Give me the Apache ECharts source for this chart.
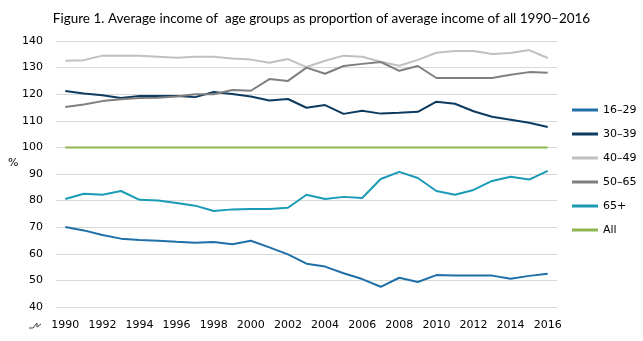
<!DOCTYPE html>
<html>
<head>
<meta charset="utf-8">
<script src="https://cdn.jsdelivr.net/npm/echarts@6/dist/echarts.min.js"></script>
<style>
  html, body { margin: 0; padding: 0; background: #fff; }
  #chart { width: 643px; height: 341px; }
</style>
</head>
<body>
<div id="chart"></div>
<script>
// Years on the horizontal axis
const years = ['1990','1991','1992','1993','1994','1995','1996','1997','1998','1999','2000','2001','2002','2003','2004','2005','2006','2007','2008','2009','2010','2011','2012','2013','2014','2015','2016'];

// Average income of each age group as % of the average income of all
const age16to29 = [70.1, 68.8, 67.1, 65.7, 65.2, 64.9, 64.5, 64.2, 64.4, 63.6, 64.9, 62.4, 59.8, 56.3, 55.2, 52.7, 50.5, 47.6, 51.0, 49.4, 52.0, 51.8, 51.8, 51.8, 50.6, 51.7, 52.5];
const age30to39 = [121.2, 120.3, 119.6, 118.6, 119.3, 119.3, 119.3, 118.9, 120.8, 120.1, 119.1, 117.6, 118.2, 114.9, 115.9, 112.6, 113.8, 112.7, 113.0, 113.4, 117.2, 116.4, 113.6, 111.5, 110.4, 109.3, 107.7];
const age40to49 = [132.6, 132.8, 134.5, 134.5, 134.5, 134.1, 133.7, 134.1, 134.1, 133.4, 133.0, 131.8, 133.2, 130.2, 132.6, 134.5, 134.1, 132.2, 130.7, 132.9, 135.6, 136.2, 136.2, 135.1, 135.5, 136.6, 133.6];
const age50to65 = [115.2, 116.1, 117.4, 118.1, 118.6, 118.7, 119.1, 120.0, 120.0, 121.6, 121.3, 125.7, 125.0, 130.0, 127.7, 130.6, 131.4, 132.1, 128.8, 130.6, 126.1, 126.1, 126.1, 126.1, 127.3, 128.3, 128.1];
const age65plus = [80.6, 82.6, 82.2, 83.6, 80.3, 80.0, 79.1, 78.1, 76.1, 76.7, 76.8, 76.8, 77.3, 82.2, 80.6, 81.4, 81.0, 88.1, 90.8, 88.5, 83.6, 82.2, 84.0, 87.4, 89.0, 87.9, 91.2];
const allAges = years.map(() => 100);

const seriesNames = ['16\u201329', '30\u201339', '40\u201349', '50\u201365', '65+', 'All'];
const seriesColors = ['#1f6fa8', '#0d3a5f', '#c0c0c0', '#7f7f7f', '#1a9bb5', '#8db650'];
const seriesData = [age16to29, age30to39, age40to49, age50to65, age65plus, allAges];

const yTicks = { min: 40, max: 140, step: 10 };

const chart = echarts.init(document.getElementById('chart'), null, { renderer: 'canvas' });

const labelFont = 'DejaVu Sans';

chart.setOption({
  animation: false,
  backgroundColor: '#ffffff',
  title: {
    text: 'Figure 1. Average income of  age groups as proportion of average income of all 1990\u20132016',
    left: 'center',
    top: 7,
    textStyle: { fontFamily: 'Lato', fontSize: 13.5, fontWeight: 'normal', color: '#000' }
  },
  grid: { left: 56, right: 86, top: 41, bottom: 34, containLabel: false },
  legend: {
    orient: 'vertical',
    left: 567,
    top: 98,
    itemWidth: 26,
    itemHeight: 3,
    itemGap: 10,
    icon: 'rect',
    textStyle: { fontFamily: labelFont, fontSize: 11, color: '#000', lineHeight: 14 },
    data: seriesNames
  },
  xAxis: {
    type: 'category',
    data: years,
    boundaryGap: true,
    axisLine: { show: true, lineStyle: { color: '#d9d9d9', width: 1 } },
    axisTick: { show: false },
    axisLabel: { interval: 1, color: '#000', fontFamily: labelFont, fontSize: 11, margin: 13 }
  },
  yAxis: {
    type: 'value',
    min: yTicks.min,
    max: yTicks.max,
    interval: yTicks.step,
    axisLine: { show: false },
    axisTick: { show: false },
    splitLine: { lineStyle: { color: '#d9d9d9', width: 1 } },
    axisLabel: { color: '#000', fontFamily: labelFont, fontSize: 11, margin: 13 }
  },
  graphic: [
    {
      type: 'text',
      left: 8,
      top: 158,
      style: { text: '%', fill: '#000', font: '11px "DejaVu Sans"' }
    },
    {
      type: 'polyline',
      shape: { points: [[29, 328], [33, 328], [37, 323], [37, 327], [41, 324]] },
      style: { stroke: '#404040', lineWidth: 1, fill: null }
    }
  ],
  series: seriesNames.map((name, i) => ({
    name,
    type: 'line',
    data: seriesData[i],
    symbol: 'none',
    smooth: false,
    lineStyle: { color: seriesColors[i], width: 2 },
    itemStyle: { color: seriesColors[i] },
    z: i === 5 ? 1 : 2
  }))
});
</script>
</body>
</html>
